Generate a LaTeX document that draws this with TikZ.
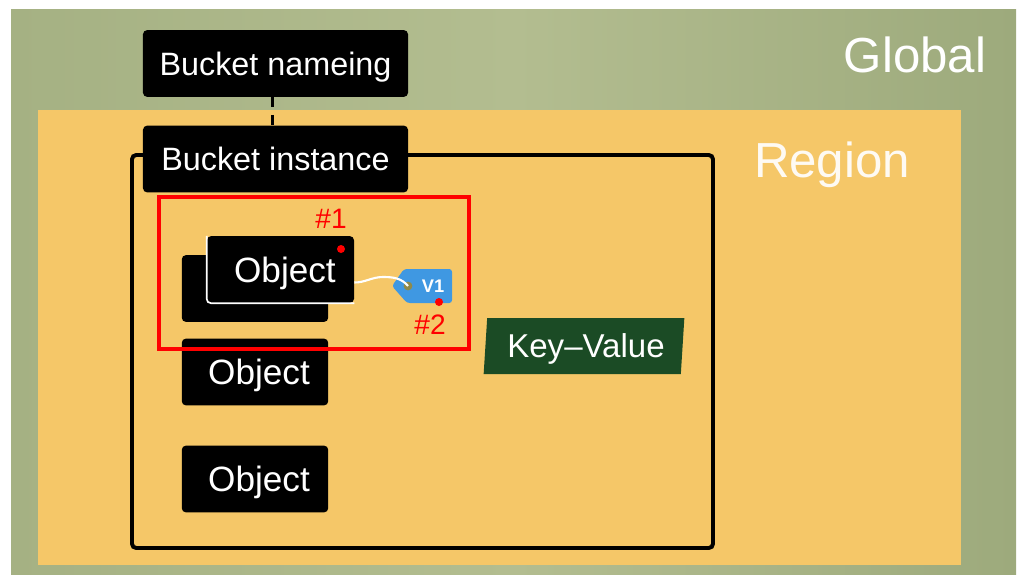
\documentclass[tikz,border=0pt]{standalone}
\usepackage{fontspec}
\setmainfont{Liberation Sans}
\usetikzlibrary{shapes.geometric}
\definecolor{globalgreen}{HTML}{A5B183}
\definecolor{globalmid}{HTML}{B3BD90}
\definecolor{globaldark}{HTML}{9DAA7C}
\definecolor{regionorange}{HTML}{F5C768}
\definecolor{tagblue}{HTML}{3F98E2}
\definecolor{kvgreen}{HTML}{1B4B25}
\tikzset{
  blackbox/.style={fill=black,text=white,rounded corners=3pt,inner sep=0pt,text depth=0pt},
  bucketbox/.style={blackbox,minimum width=6.625cm,minimum height=1.67cm,text height=16.6pt,font=\fontsize{23}{26}\selectfont},
  objbox/.style={blackbox,minimum width=3.66cm,minimum height=1.67cm,text height=18pt,font=\fontsize{25}{28}\selectfont},
  zonelabel/.style={text=white,text height=25pt,text depth=0pt,font=\fontsize{35}{40}\selectfont},
  redlabel/.style={text=red,font=\fontsize{20}{24}\selectfont},
  reddot/.style={circle,fill=red,inner sep=0pt,minimum size=0.2cm},
}
\begin{document}
\begin{tikzpicture}[x=0.025cm,y=-0.025cm]
\useasboundingbox (0,0) rectangle (1024,581);
\shade[left color=globalgreen,right color=globaldark,middle color=globalmid] (11,9) rectangle (1016,574);
\fill[regionorange] (38,110) rectangle (961,565);

\node[zonelabel] (global) at (915,55) {Global};
\node[zonelabel,text=white!92!regionorange] (region) at (832,160) {Region};

\draw[line width=2.8pt,rounded corners=3pt] (132,155) rectangle (713,548);

\node[bucketbox] (naming) at (275.5,63.5) {Bucket nameing};
\node[bucketbox] (instance) at (275.5,159) {Bucket instance};
\draw[line width=2.1pt,dash pattern=on 7pt off 5.5pt] ([xshift=-1.8pt]naming.south) -- ([xshift=-1.8pt]instance.north);

\node[objbox] (objback) at (255,288.5) {};
\node[objbox,minimum width=3.675cm] (objfront) at (280.5,269.5) {\hspace{0.22cm}Object};
\draw[white,line width=1.2pt,rounded corners=3pt] (objfront.north west) -- (objfront.south west) -- (objfront.south east);
\node[objbox] (objtwo) at (255,372) {\hspace{0.2cm}Object};
\node[objbox] (objthree) at (255,479) {\hspace{0.2cm}Object};

\draw[red,line width=2.3pt] (159,197) rectangle (469,349);
\node[redlabel] (first) at (331,219) {\#1};
\node[redlabel] (second) at (430,325) {\#2};

\fill[tagblue,rounded corners=2pt] (392,286) -- (404,269) -- (452,269) -- (452,303) -- (407,303) -- cycle;
\node[text=white,font=\bfseries\fontsize{13}{15}\selectfont] (version) at (433,286) {V1};
\node[circle,fill=yellow!50!black,inner sep=0pt,minimum size=0.22cm] (hole) at (408,286) {};
\draw[white,line width=1.5pt] (objfront.east) ++(0,13) coordinate (wirestart) to[out=0,in=180] (383,277) to[out=0,in=130] (hole.center);

\node[reddot] (dotone) at (341,249) {};
\node[reddot] (dottwo) at (439,302) {};

\node[trapezium,fill=kvgreen,text=white,trapezium left angle=83,trapezium right angle=97,trapezium stretches=true,minimum width=5.025cm,minimum height=1.4cm,inner sep=0pt,text height=17pt,text depth=0pt,font=\fontsize{23.5}{26}\selectfont] (keyvalue) at (584,346) {\hspace{0.1cm}Key--Value};
\end{tikzpicture}
\end{document}
